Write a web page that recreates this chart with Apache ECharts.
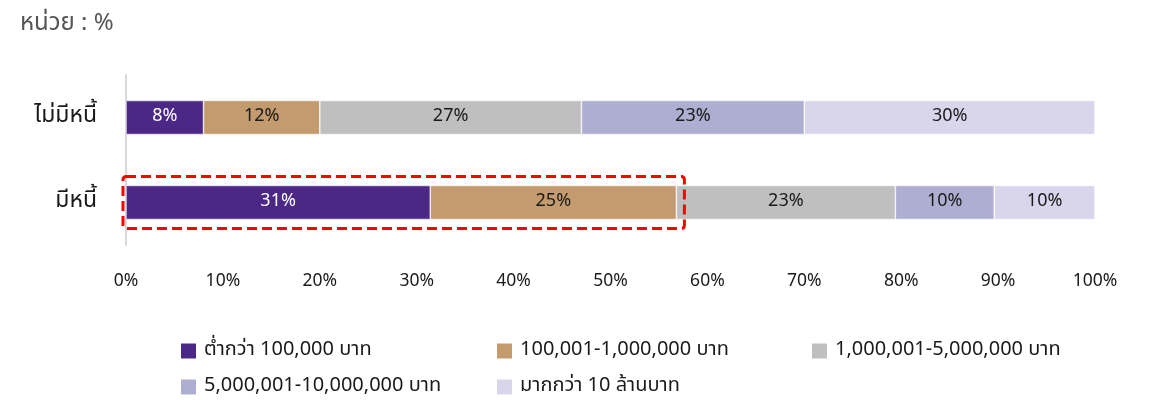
<!DOCTYPE html>
<html>
<head>
<meta charset="utf-8">
<script src="https://cdn.jsdelivr.net/npm/echarts@6/dist/echarts.min.js"></script>
<style>
  html, body { margin: 0; padding: 0; background: #fff; }
  #chart { width: 1152px; height: 400px; }
</style>
</head>
<body>
<div id="chart"></div>
<script>
// Debt status groups (top to bottom)
const categories = ['ไม่มีหนี้', 'มีหนี้'];

// Savings brackets
const seriesNames = [
  'ต่ำกว่า 100,000 บาท',
  '100,001-1,000,000 บาท',
  '1,000,001-5,000,000 บาท',
  '5,000,001-10,000,000 บาท',
  'มากกว่า 10 ล้านบาท'
];

// Share (%) per bracket, ordered as categories
const below100k   = [8, 31.4];
const to1m        = [12, 25.4];
const to5m        = [27, 22.6];
const to10m       = [23, 10.2];
const above10m    = [30, 10.4];

const seriesValues = [below100k, to1m, to5m, to10m, above10m];
const colors = ['#4b2886', '#c49a6f', '#bfbfbf', '#aeaed2', '#d9d5ea'];
const labelColors = ['#ffffff', '#1a1a1a', '#1a1a1a', '#1a1a1a', '#1a1a1a'];

const xTicks = [0, 10, 20, 30, 40, 50, 60, 70, 80, 90, 100];

const FONT = "'Noto Sans Thai', Tahoma, 'Noto Sans', 'DejaVu Sans', sans-serif";

const chart = echarts.init(document.getElementById('chart'));

const series = seriesNames.map((name, i) => ({
  name,
  type: 'bar',
  stack: 'total',
  barWidth: '40%',
  data: seriesValues[i],
  itemStyle: { color: colors[i], borderColor: '#ffffff', borderWidth: 0.6 },
  label: {
    show: true,
    position: 'inside',
    color: labelColors[i],
    fontFamily: FONT,
    fontSize: 18,
    formatter: p => Math.round(p.value) + '%'
  }
}));

// One legend block per item so they sit in a fixed three-column grid
const legendSlots = [
  [179, 341], [495, 341], [810, 341],
  [179, 377], [495, 377]
];
const legends = seriesNames.map((name, i) => ({
  data: [name],
  left: legendSlots[i][0],
  top: legendSlots[i][1],
  padding: 0,
  itemWidth: 17,
  itemHeight: 17,
  itemGap: 8,
  icon: 'rect',
  selectedMode: false,
  textStyle: { fontFamily: FONT, fontSize: 20, color: '#1a1a1a', padding: [0, 0, 0, 2] }
}));

chart.setOption({
  animation: false,
  title: {
    text: 'หน่วย : %',
    left: 15,
    top: 8,
    textStyle: { fontFamily: FONT, fontSize: 24, fontWeight: 'normal', color: '#555555' }
  },
  grid: { left: 126, right: 57, top: 75, height: 170, containLabel: false },
  xAxis: {
    type: 'value',
    min: 0,
    max: 100,
    interval: 10,
    splitLine: { show: false },
    axisLine: { show: false },
    axisTick: { show: false },
    axisLabel: {
      margin: 28,
      fontFamily: FONT,
      fontSize: 17.5,
      color: '#1a1a1a',
      formatter: v => (xTicks.includes(v) ? v + '%' : '')
    }
  },
  yAxis: {
    type: 'category',
    data: categories,
    inverse: true,
    axisLine: { show: true, lineStyle: { color: '#d9d9d9', width: 2 } },
    axisTick: { show: false },
    axisLabel: { margin: 29, fontFamily: FONT, fontSize: 23, color: '#1a1a1a' }
  },
  legend: legends,
  series
});

// Dashed highlight around the first two brackets of the indebted group
function drawHighlight() {
  const end = below100k[1] + to1m[1];
  const p0 = chart.convertToPixel({ gridIndex: 0 }, [0, 1]);
  const p1 = chart.convertToPixel({ gridIndex: 0 }, [end, 1]);
  const x = p0[0] - 3;
  const w = p1[0] - p0[0] + 11;
  const y = p0[1] - 26;
  const h = 52;
  chart.setOption({
    graphic: [{
      type: 'rect',
      z: 100,
      shape: { x, y, width: w, height: h, r: 3 },
      style: { fill: 'none', stroke: '#ff0000', lineWidth: 3, lineDash: [10, 5] }
    }]
  });
}
drawHighlight();
</script>
</body>
</html>
